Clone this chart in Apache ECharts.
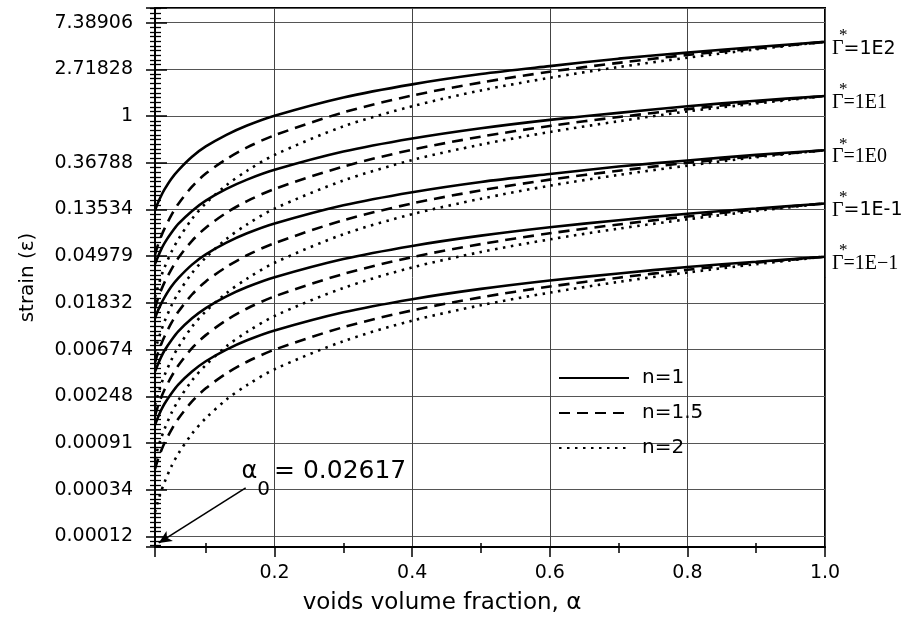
<!DOCTYPE html>
<html>
<head>
<meta charset="utf-8">
<script src="https://cdn.jsdelivr.net/npm/echarts@6/dist/echarts.min.js"></script>
<style>
html, body { margin: 0; padding: 0; background: #fff; }
#chart { width: 908px; height: 625px; }
</style>
</head>
<body>
<div id="chart"></div>
<script>
// voids volume fraction
const alpha = [0.02617, 0.03, 0.035, 0.04, 0.05, 0.06, 0.08, 0.1, 0.13, 0.16, 0.2, 0.3, 0.4, 0.5, 0.6, 0.7, 0.8, 0.9, 1.0];

// ln(strain), one array per curve
// n = 1 (solid)
const s1E2 = [-2.02, -1.87, -1.71, -1.57, -1.34, -1.16, -0.87, -0.65, -0.40, -0.20, 0.01, 0.40, 0.68, 0.90, 1.07, 1.23, 1.36, 1.48, 1.59];
const s1E1 = [-3.17, -3.03, -2.86, -2.72, -2.50, -2.31, -2.03, -1.81, -1.56, -1.36, -1.15, -0.76, -0.48, -0.26, -0.08, 0.07, 0.21, 0.33, 0.43];
const s1E0 = [-4.33, -4.18, -4.02, -3.88, -3.65, -3.47, -3.18, -2.96, -2.71, -2.51, -2.30, -1.91, -1.63, -1.41, -1.24, -1.08, -0.95, -0.83, -0.73];
const s1Em1 = [-5.47, -5.33, -5.16, -5.02, -4.80, -4.61, -4.33, -4.11, -3.86, -3.66, -3.45, -3.06, -2.78, -2.56, -2.38, -2.23, -2.09, -1.98, -1.87];
const s1Em2 = [-6.61, -6.47, -6.30, -6.16, -5.94, -5.75, -5.47, -5.25, -5.00, -4.80, -4.59, -4.20, -3.92, -3.70, -3.52, -3.37, -3.23, -3.12, -3.01];
// n = 1.5 (dashed)
const d1E2 = [-2.97, -2.78, -2.58, -2.41, -2.12, -1.88, -1.51, -1.23, -0.92, -0.67, -0.41, 0.08, 0.44, 0.72, 0.95, 1.14, 1.31, 1.45, 1.59];
const d1E1 = [-4.12, -3.93, -3.73, -3.56, -3.28, -3.04, -2.67, -2.39, -2.07, -1.82, -1.56, -1.08, -0.72, -0.44, -0.21, -0.02, 0.15, 0.30, 0.43];
const d1E0 = [-5.28, -5.09, -4.89, -4.72, -4.43, -4.19, -3.82, -3.54, -3.23, -2.98, -2.72, -2.23, -1.87, -1.59, -1.36, -1.17, -1.00, -0.86, -0.73];
const d1Em1 = [-6.42, -6.23, -6.03, -5.86, -5.58, -5.34, -4.97, -4.69, -4.37, -4.12, -3.86, -3.38, -3.02, -2.74, -2.51, -2.32, -2.15, -2.00, -1.87];
const d1Em2 = [-7.56, -7.37, -7.17, -7.00, -6.72, -6.48, -6.11, -5.83, -5.51, -5.26, -5.00, -4.52, -4.16, -3.88, -3.65, -3.46, -3.29, -3.14, -3.01];
// n = 2 (dotted)
const p1E2 = [-3.88, -3.68, -3.44, -3.24, -2.91, -2.64, -2.20, -1.87, -1.48, -1.17, -0.83, -0.22, 0.21, 0.55, 0.82, 1.05, 1.25, 1.43, 1.59];
const p1E1 = [-5.04, -4.83, -4.60, -4.40, -4.06, -3.79, -3.36, -3.03, -2.63, -2.32, -1.98, -1.38, -0.94, -0.61, -0.34, -0.11, 0.10, 0.27, 0.43];
const p1E0 = [-6.19, -5.99, -5.75, -5.55, -5.22, -4.95, -4.51, -4.18, -3.79, -3.48, -3.14, -2.53, -2.10, -1.77, -1.49, -1.26, -1.06, -0.88, -0.73];
const p1Em1 = [-7.34, -7.13, -6.90, -6.70, -6.36, -6.09, -5.66, -5.33, -4.93, -4.62, -4.28, -3.68, -3.24, -2.91, -2.64, -2.41, -2.21, -2.03, -1.87];
const p1Em2 = [-8.48, -8.27, -8.04, -7.84, -7.50, -7.23, -6.80, -6.47, -6.07, -5.76, -5.42, -4.82, -4.38, -4.05, -3.78, -3.55, -3.35, -3.17, -3.01];

const gammaTexts = ['=1E2', '=1E1', '=1E0', '=1E-1', '=1E\u22121'];
const gammaSerif = [false, true, true, false, true];

const yTickLn = [-9, -8, -7, -6, -5, -4, -3, -2, -1, 0, 1, 2];
const yTickLabels = ['0.00012', '0.00034', '0.00091', '0.00248', '0.00674', '0.01832', '0.04979', '0.13534', '0.36788', '1', '2.71828', '7.38906'];
const xTickValues = [0.2, 0.4, 0.6, 0.8, 1.0];
const xTickLabels = ['0.2', '0.4', '0.6', '0.8', '1.0'];
const xMinorTicks = [0.1, 0.3, 0.5, 0.7, 0.9];

const alpha0 = 0.02617;
const yMin = -9.227, yMax = 2.315;

const sans = 'DejaVu Sans, Liberation Sans, sans-serif';
const serif = 'Liberation Serif, Times New Roman, serif';

const solid = [s1E2, s1E1, s1E0, s1Em1, s1Em2];
const dashed = [d1E2, d1E1, d1E0, d1Em1, d1Em2];
const dotted = [p1E2, p1E1, p1E0, p1Em1, p1Em2];

function pairs(vals) {
  return alpha.map((a, i) => [a, vals[i]]);
}

const series = [];
dotted.forEach((v) => {
  series.push({
    name: 'n=2', type: 'line', data: pairs(v), smooth: 0.3, symbol: 'none',
    lineStyle: { color: '#000', width: 2.6, type: [2.5, 5.5] }
  });
});
dashed.forEach((v) => {
  series.push({
    name: 'n=1.5', type: 'line', data: pairs(v), smooth: 0.3, symbol: 'none',
    lineStyle: { color: '#000', width: 2.6, type: [11, 7] }
  });
});
solid.forEach((v, k) => {
  series.push({
    name: 'n=1', type: 'line', data: pairs(v), smooth: 0.3, symbol: 'none',
    lineStyle: { color: '#000', width: 2.6 },
    endLabel: {
      show: true,
      distance: 7,
      offset: [0, 5],
      formatter: '{st|*}\n{g|\u0393}{t|' + gammaTexts[k] + '}',
      rich: {
        st: { fontFamily: serif, fontSize: 17, color: '#000', lineHeight: 4, padding: [0, 0, 0, 7] },
        g: { fontFamily: serif, fontSize: 20, color: '#000', lineHeight: 22 },
        t: { fontFamily: gammaSerif[k] ? serif : sans, fontSize: gammaSerif[k] ? 20 : 19, color: '#000', lineHeight: 22 }
      }
    }
  });
});

// annotation: alpha_0 arrow and text
series.push({
  type: 'line', data: [], silent: true,
  markLine: {
    silent: true, symbol: ['none', 'arrow'], symbolSize: [9, 13],
    lineStyle: { color: '#000', width: 1.6, type: 'solid' },
    label: { show: false },
    data: [[{ coord: [0.158, -7.96] }, { coord: [0.0316, -9.14] }]]
  },
  markPoint: {
    silent: true, symbol: 'circle', symbolSize: 0,
    label: {
      show: true, position: 'right', distance: 4,
      formatter: '{a|\u03b1}{s|0}{b|= ' + alpha0 + '}',
      rich: {
        a: { fontFamily: sans, fontSize: 24, color: '#000', lineHeight: 56, verticalAlign: 'middle' },
        s: { fontFamily: sans, fontSize: 20, color: '#000', lineHeight: 20, verticalAlign: 'bottom' },
        b: { fontFamily: sans, fontSize: 25, color: '#000', lineHeight: 56, verticalAlign: 'middle', padding: [0, 0, 0, 4] }
      }
    },
    data: [{ coord: [0.146, -7.62] }]
  }
});

const chart = echarts.init(document.getElementById('chart'));
chart.setOption({
  animation: false,
  backgroundColor: '#fff',
  grid: { left: 155, right: 83, top: 8, bottom: 78, show: true, borderColor: '#000', borderWidth: 2 },
  legend: {
    data: ['n=1', 'n=1.5', 'n=2'],
    orient: 'vertical', left: 553, top: 362,
    itemWidth: 70, itemHeight: 14, itemGap: 13,
    itemStyle: { opacity: 0 },
    textStyle: { fontFamily: sans, fontSize: 20, color: '#000', lineHeight: 22, padding: [0, 0, 0, 8] }
  },
  xAxis: [
    {
      type: 'value', min: alpha0, max: 1.0,
      name: 'voids volume fraction, \u03b1', nameLocation: 'middle', nameGap: 45,
      nameTextStyle: { fontFamily: sans, fontSize: 23, color: '#000', padding: [0, 96, 0, 0] },
      axisLine: { onZero: false, lineStyle: { color: '#000', width: 2 } },
      axisTick: { show: true, length: 10, lineStyle: { color: '#000', width: 1.5 } },
      axisLabel: {
        margin: 17, fontFamily: sans, fontSize: 19, color: '#000',
        formatter: (v) => {
          const i = xTickValues.findIndex((t) => Math.abs(t - v) < 1e-6);
          return i >= 0 ? xTickLabels[i] : '';
        }
      },
      splitLine: { show: true, lineStyle: { color: '#444', width: 1 } }
    },
    {
      type: 'value', min: alpha0, max: 1.0, position: 'bottom',
      axisLine: { show: false, onZero: false }, axisLabel: { show: false }, splitLine: { show: false },
      axisTick: { show: true, customValues: xMinorTicks, length: 6, lineStyle: { color: '#000', width: 1.5 } }
    },
    {
      type: 'value', min: alpha0, max: 1.0, position: 'bottom',
      axisLine: { show: false, onZero: false }, axisLabel: { show: false }, splitLine: { show: false },
      axisTick: { show: true, inside: true, customValues: xMinorTicks, length: 4, lineStyle: { color: '#000', width: 1.5 } }
    }
  ],
  yAxis: [
    {
      type: 'value', min: yMin, max: yMax, splitNumber: 11,
      name: 'strain (\u03b5)', nameLocation: 'middle', nameGap: 117,
      nameTextStyle: { fontFamily: sans, fontSize: 20, color: '#000' },
      axisLine: { onZero: false, lineStyle: { color: '#000', width: 2 } },
      axisTick: { show: true, length: 9, lineStyle: { color: '#000', width: 1.5 } },
      minorTick: { show: true, splitNumber: 10, length: 5, lineStyle: { color: '#000', width: 1.3 } },
      axisLabel: {
        margin: 22, fontFamily: sans, fontSize: 19, color: '#000',
        formatter: (v) => {
          const i = yTickLn.findIndex((t) => Math.abs(t - v) < 1e-6);
          return i >= 0 ? yTickLabels[i] : '';
        }
      },
      splitLine: { show: true, lineStyle: { color: '#555', width: 1 } }
    },
    {
      type: 'value', min: yMin, max: yMax, splitNumber: 11, position: 'left',
      axisLine: { show: false, onZero: false }, axisLabel: { show: false }, splitLine: { show: false },
      axisTick: { show: true, inside: true, length: 12, lineStyle: { color: '#000', width: 1.5 } },
      minorTick: { show: true, splitNumber: 10, length: 6, lineStyle: { color: '#000', width: 1.3 } }
    }
  ],
  series: series
});
</script>
</body>
</html>
